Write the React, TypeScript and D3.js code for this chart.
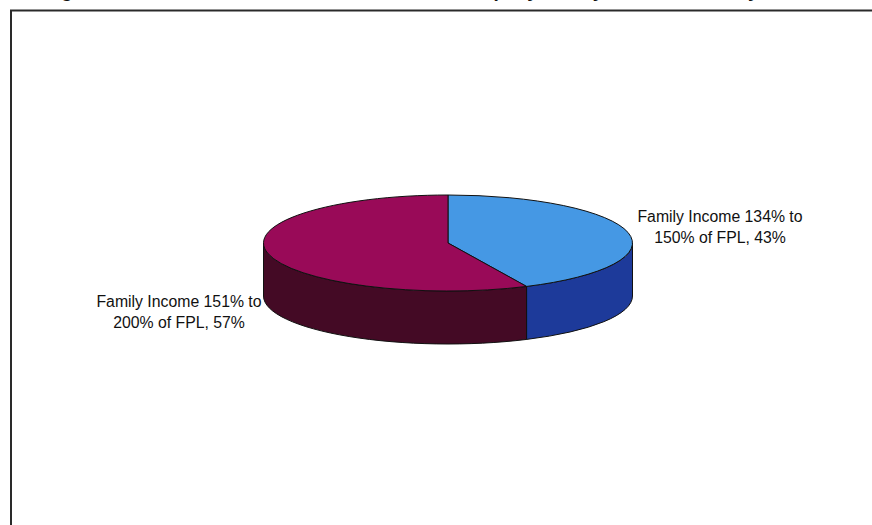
import React from "react";
import * as d3 from "d3";

const categories = [
  "Family Income 134% to 150% of FPL",
  "Family Income 151% to 200% of FPL",
];
const values = [43, 57];
const labelLines = [
  ["Family Income 134% to", "150% of FPL, 43%"],
  ["Family Income 151% to", "200% of FPL, 57%"],
];
const topColors = ["#4598e4", "#990a58"];
const sideColors = ["#1d3a9a", "#440a25"];
const title = "Figure 5: Enrollees in the 134% to 200% FPL Group, by Family Income, January 2009";

const W = 872;
const H = 525;
const cx = 448;
const cy = 243;
const rx = 184.5;
const ry = 48;
const depth = 53;

function pt(a: number, dy = 0): [number, number] {
  return [cx + rx * Math.sin(a), cy - ry * Math.cos(a) + dy];
}

export default function App() {
  const pie = d3
    .pie<number>()
    .sort(null)
    .startAngle(0)
    .endAngle(2 * Math.PI)(values);

  const sides: { d: string; color: string }[] = [];
  pie.forEach((s, i) => {
    const a0 = Math.max(s.startAngle, Math.PI / 2);
    const a1 = Math.min(s.endAngle, (3 * Math.PI) / 2);
    if (a1 <= a0) return;
    const p0 = pt(a0);
    const p1 = pt(a1);
    const b0 = pt(a0, depth);
    const b1 = pt(a1, depth);
    const d = `M${p0[0]},${p0[1]} A${rx},${ry} 0 0 1 ${p1[0]},${p1[1]} L${b1[0]},${b1[1]} A${rx},${ry} 0 0 0 ${b0[0]},${b0[1]} Z`;
    sides.push({ d, color: sideColors[i] });
  });

  const tops = pie.map((s, i) => {
    const p0 = pt(s.startAngle);
    const p1 = pt(s.endAngle);
    const large = s.endAngle - s.startAngle > Math.PI ? 1 : 0;
    return {
      d: `M${cx},${cy} L${p0[0]},${p0[1]} A${rx},${ry} 0 ${large} 1 ${p1[0]},${p1[1]} Z`,
      color: topColors[i],
    };
  });

  const labelPos = [
    { x: 720, y: 222 },
    { x: 179, y: 307 },
  ];

  return (
    <svg
      width={W}
      height={H}
      style={{ position: "absolute", left: 0, top: 0, background: "#fff" }}
      fontFamily="'Liberation Sans', Arial, sans-serif"
    >
      <text x={44} y={-3} fontSize={19} fontWeight="bold" fill="#111">
        {title}
      </text>
      <rect x={11} y={10.5} width={880} height={540} fill="#fff" stroke="#2a2a2a" strokeWidth={2} />
      {sides.map((s, i) => (
        <path key={"s" + i} d={s.d} fill={s.color} stroke="#111" strokeWidth={1} />
      ))}
      {tops.map((t, i) => (
        <path key={"t" + i} d={t.d} fill={t.color} stroke="#111" strokeWidth={1} />
      ))}
      {categories.map((c, i) => (
        <text
          key={c}
          x={labelPos[i].x}
          y={labelPos[i].y}
          textAnchor="middle"
          fontSize={15.8}
          fill="#111"
        >
          <tspan x={labelPos[i].x}>{labelLines[i][0]}</tspan>
          <tspan x={labelPos[i].x} dy={20.5}>
            {labelLines[i][1]}
          </tspan>
        </text>
      ))}
    </svg>
  );
}
